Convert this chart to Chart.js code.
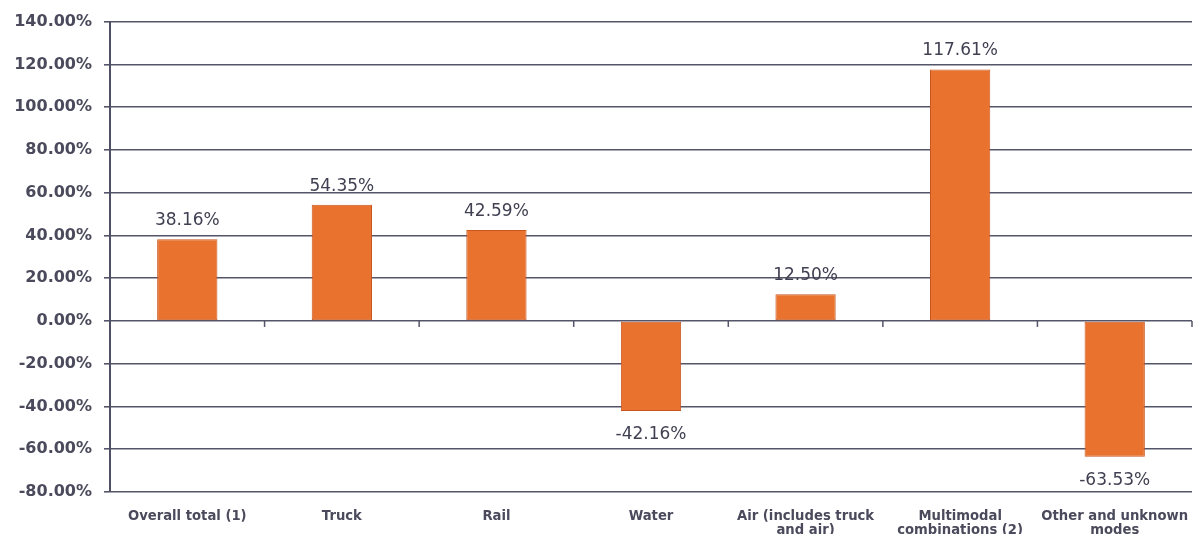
<!DOCTYPE html>
<html>
<head>
<meta charset="utf-8">
<script src="https://cdn.jsdelivr.net/npm/chart.js@4"></script>
<style>
  html, body { margin: 0; padding: 0; background: #fff; }
  #wrap { width: 1196px; height: 534px; }
</style>
</head>
<body>
<div id="wrap"><canvas id="chart" width="1196" height="534"></canvas></div>
<script>
'use strict';

// categories (multi-line labels as drawn under the axis)
const categories = [
    ['Overall total (1)'],
    ['Truck'],
    ['Rail'],
    ['Water'],
    ['Air (includes truck', 'and air)'],
    ['Multimodal', 'combinations (2)'],
    ['Other and unknown', 'modes'],
];
// percent change values
const changes = [38.16, 54.35, 42.59, -42.16, 12.50, 117.61, -63.53];
const y_ticks = [140, 120, 100, 80, 60, 40, 20, 0, -20, -40, -60, -80];

const grid_color = '#55556a';
const text_color = '#4a4a5c';

// value labels above / below each bar
const bar_labels = {
    id: 'bar_labels',
    afterDatasetsDraw: function(chart){
        const ctx = chart.ctx;
        const meta = chart.getDatasetMeta(0);
        ctx.save();
        ctx.font = '17px "DejaVu Sans"';
        ctx.fillStyle = '#404052';
        ctx.textAlign = 'center';
        meta.data.forEach(function(bar, i){
            var v = changes[i];
            var txt = v.toFixed(2) + '%';
            if( v >= 0 ){
                ctx.textBaseline = 'bottom';
                ctx.fillText(txt, bar.x, bar.y - 10);
            }else{
                ctx.textBaseline = 'top';
                ctx.fillText(txt, bar.x, bar.y + 15);
            }
        });
        ctx.restore();
    }
};

// small tick marks under the zero line at category boundaries
const zero_ticks = {
    id: 'zero_ticks',
    afterDraw: function(chart){
        const ctx = chart.ctx;
        const xs = chart.scales.x;
        const y0 = chart.scales.y.getPixelForValue(0);
        ctx.save();
        ctx.strokeStyle = grid_color;
        ctx.lineWidth = 1.5;
        for( var i = 1 ; i <= categories.length ; i++ ){
            var x = (xs.getPixelForValue(i - 1) + xs.getPixelForValue(i)) / 2;
            if( i == categories.length ) x = xs.right;
            ctx.beginPath();
            ctx.moveTo(x, y0);
            ctx.lineTo(x, y0 + 6);
            ctx.stroke();
        }
        ctx.restore();
    }
};

const ctx = document.getElementById('chart').getContext('2d');
window.chart = new Chart(ctx, {
    type: 'bar',
    data: {
        labels: categories,
        datasets: [{
            data: changes,
            backgroundColor: '#e8722e',
            borderColor: '#c9561f',
            borderWidth: 1,
            borderSkipped: false,
            barPercentage: 0.39,
            categoryPercentage: 1.0,
        }],
    },
    options: {
        responsive: false,
        animation: false,
        layout: { padding: { top: 10, right: 4, left: 0, bottom: 0 } },
        plugins: {
            legend: { display: false },
            tooltip: { enabled: false },
        },
        scales: {
            x: {
                grid: { display: false },
                border: { display: false },
                ticks: {
                    color: text_color,
                    font: { family: 'DejaVu Sans', size: 13.2, weight: 'bold', lineHeight: 1.1 },
                    padding: 9,
                    maxRotation: 0,
                    autoSkip: false,
                },
                afterFit: function(scale){
                    scale.height = 42;
                    scale.paddingRight = 0;
                },
            },
            y: {
                min: -80,
                max: 140,
                afterBuildTicks: function(scale){
                    scale.ticks = y_ticks.map(function(v){ return { value: v }; });
                },
                grid: {
                    color: grid_color,
                    lineWidth: 1.6,
                    tickLength: 6,
                },
                border: { display: true, color: '#505065', width: 2 },
                ticks: {
                    color: text_color,
                    font: { family: 'DejaVu Sans', size: 16, weight: 'bold' },
                    padding: 12,
                    callback: function(v){ return v.toFixed(2) + '%'; },
                },
                afterFit: function(scale){ scale.width = 110; },
            },
        },
    },
    plugins: [bar_labels, zero_ticks],
});
</script>
</body>
</html>
